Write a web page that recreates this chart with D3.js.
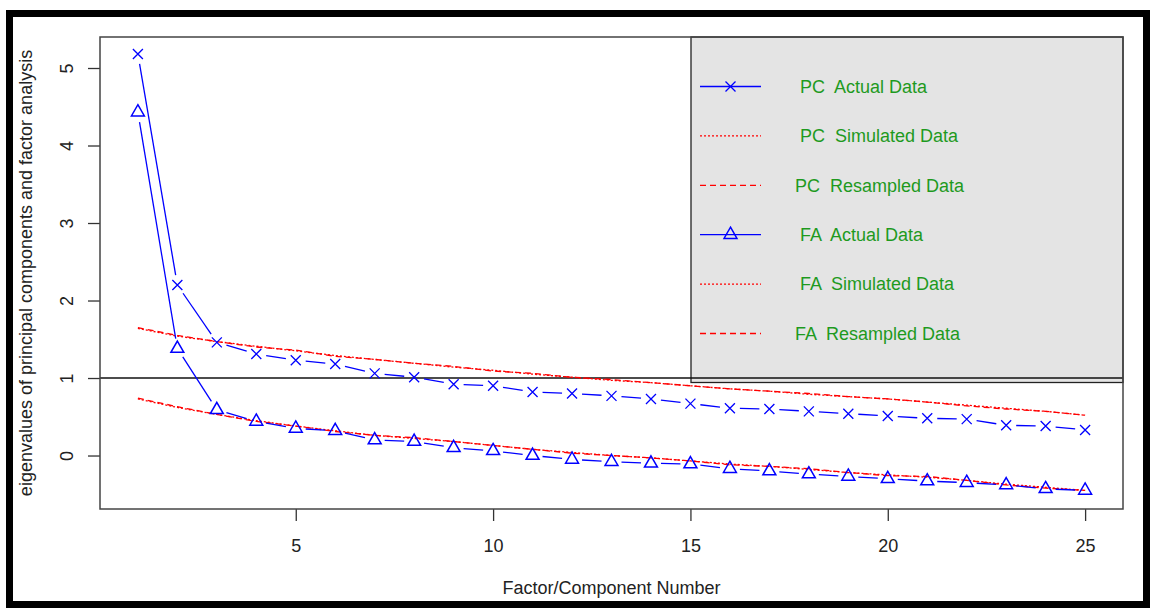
<!DOCTYPE html>
<html>
<head>
<meta charset="utf-8">
<script src="https://cdn.jsdelivr.net/npm/d3@7"></script>
<style>
  html, body { margin: 0; padding: 0; background: #fff; }
  svg { display: block; font-family: "Liberation Sans", Arial, sans-serif; }
  .legend-text { white-space: pre; }
</style>
</head>
<body>
<div id="chart"></div>
<script>
// values (factor/component number 1..25)
const components  = d3.range(1, 26)
const pcActual    = [5.18, 2.20, 1.46, 1.31, 1.23, 1.18, 1.06, 1.01, 0.92, 0.90, 0.82, 0.80, 0.77, 0.73, 0.67, 0.61, 0.60, 0.57, 0.54, 0.51, 0.48, 0.47, 0.39, 0.38, 0.33]
const pcSimulated = [1.64, 1.54, 1.47, 1.41, 1.35, 1.29, 1.24, 1.19, 1.14, 1.10, 1.05, 1.01, 0.97, 0.94, 0.90, 0.86, 0.83, 0.79, 0.76, 0.73, 0.69, 0.65, 0.61, 0.57, 0.52]
const pcResampled = [1.65, 1.55, 1.47, 1.40, 1.36, 1.28, 1.24, 1.19, 1.15, 1.09, 1.06, 1.01, 0.98, 0.94, 0.90, 0.86, 0.83, 0.80, 0.76, 0.73, 0.69, 0.64, 0.60, 0.57, 0.52]
const faActual    = [4.43, 1.38, 0.59, 0.44, 0.35, 0.32, 0.20, 0.18, 0.10, 0.06, 0.00, -0.05, -0.08, -0.10, -0.11, -0.17, -0.20, -0.24, -0.27, -0.30, -0.33, -0.35, -0.38, -0.43, -0.45]
const faSimulated = [0.73, 0.62, 0.53, 0.45, 0.38, 0.32, 0.26, 0.22, 0.18, 0.13, 0.08, 0.04, 0.00, -0.03, -0.07, -0.11, -0.14, -0.18, -0.22, -0.25, -0.28, -0.32, -0.37, -0.41, -0.45]
const faResampled = [0.74, 0.63, 0.53, 0.44, 0.38, 0.31, 0.26, 0.23, 0.18, 0.13, 0.08, 0.03, 0.00, -0.03, -0.07, -0.12, -0.14, -0.17, -0.22, -0.26, -0.27, -0.32, -0.38, -0.42, -0.45]

const xTicks = [5, 10, 15, 20, 25]
const yTicks = [0, 1, 2, 3, 4, 5]
const legendLabels = ["PC  Actual Data", "PC  Simulated Data", "PC  Resampled Data",
                      "FA  Actual Data", "FA  Simulated Data", "FA  Resampled Data"]

const W = 1151, H = 608
const box = {left: 100, right: 1123, top: 37, bottom: 509}

const blue = "#0000ff", red = "#ff0000", green = "#1e9a1e"

const svg = d3.select("#chart").append("svg")
  .attr("width", W).attr("height", H)

const x = d3.scaleLinear().domain([0.04, 25.96]).range([box.left, box.right])
const y = d3.scaleLinear().domain([-0.69, 5.40]).range([box.bottom, box.top])

// thick black frame around the picture
svg.append("rect")
  .attr("x", 9.5).attr("y", 13.5).attr("width", 1137).attr("height", 591)
  .attr("fill", "none").attr("stroke", "#000").attr("stroke-width", 7)

// axes, R style: ticks outside the box, y labels turned
const xAxis = d3.axisBottom(x).tickValues(xTicks).tickSize(12).tickPadding(18).tickSizeOuter(0)
const gx = svg.append("g").attr("transform", "translate(0," + box.bottom + ")").call(xAxis)
gx.select(".domain").remove()
gx.selectAll("line").attr("stroke", "#333").attr("stroke-width", 1.3)
gx.selectAll("text").attr("font-size", 18).attr("fill", "#222")
  .attr("font-family", "Liberation Sans, Arial, sans-serif")

const yAxis = d3.axisLeft(y).tickValues(yTicks).tickFormat(d3.format("d")).tickSize(12).tickSizeOuter(0)
const gy = svg.append("g").attr("transform", "translate(" + box.left + ",0)").call(yAxis)
gy.select(".domain").remove()
gy.selectAll("line").attr("stroke", "#333").attr("stroke-width", 1.3)
gy.selectAll("text")
  .attr("font-size", 18).attr("fill", "#222")
  .attr("font-family", "Liberation Sans, Arial, sans-serif")
  .attr("x", 0).attr("y", 0).attr("dy", "0.35em")
  .attr("text-anchor", "middle")
  .attr("transform", "translate(-33,0) rotate(-90)")

// axis titles
svg.append("text")
  .attr("x", (box.left + box.right) / 2).attr("y", 594)
  .attr("text-anchor", "middle").attr("font-size", 18).attr("fill", "#222")
  .text("Factor/Component Number")

svg.append("text")
  .attr("transform", "translate(32," + (box.top + box.bottom) / 2 + ") rotate(-90)")
  .attr("text-anchor", "middle").attr("font-size", 18).attr("fill", "#222")
  .text("eigenvalues of principal components and factor analysis")

// legend box (drawn before the data, as the R code does)
const lg = {left: 691, right: box.right, top: box.top, bottom: 382.5}
svg.append("rect")
  .attr("x", lg.left).attr("y", lg.top)
  .attr("width", lg.right - lg.left).attr("height", lg.bottom - lg.top)
  .attr("fill", "#e4e4e4").attr("stroke", "#222").attr("stroke-width", 1.3)

// reference line at eigenvalue 1
svg.append("line")
  .attr("x1", box.left).attr("x2", box.right)
  .attr("y1", y(1)).attr("y2", y(1))
  .attr("stroke", "#111").attr("stroke-width", 1.5)

const line = d3.line().x(d => x(d[0])).y(d => y(d[1]))

function drawCurve(values, dash) {
  svg.append("path")
    .datum(components.map((c, i) => [c, values[i]]))
    .attr("d", line)
    .attr("fill", "none").attr("stroke", red).attr("stroke-width", 1.3)
    .attr("stroke-dasharray", dash)
}

// type = "b": line segments stop short of each point
function drawPoints(values, shape) {
  const gap = 10
  const pts = components.map((c, i) => [x(c), y(values[i])])
  const g = svg.append("g")
  for (let i = 0; i < pts.length - 1; i++) {
    const [x0, y0] = pts[i], [x1, y1] = pts[i + 1]
    const len = Math.hypot(x1 - x0, y1 - y0)
    if (len <= 2 * gap) continue
    const ux = (x1 - x0) / len, uy = (y1 - y0) / len
    g.append("line")
      .attr("x1", x0 + ux * gap).attr("y1", y0 + uy * gap)
      .attr("x2", x1 - ux * gap).attr("y2", y1 - uy * gap)
      .attr("stroke", blue).attr("stroke-width", 1.3)
  }
  pts.forEach(p => drawMarker(g, p[0], p[1], shape))
}

function drawMarker(g, px, py, shape) {
  if (shape === "cross") {
    const r = 5
    g.append("path")
      .attr("d", `M${px - r},${py - r}L${px + r},${py + r}M${px - r},${py + r}L${px + r},${py - r}`)
      .attr("stroke", blue).attr("stroke-width", 1.3).attr("fill", "none")
  } else {
    const xc = 4.8
    const top = 1.555 * xc, half = 1.347 * xc, bot = 0.778 * xc
    g.append("path")
      .attr("d", `M${px},${py - top}L${px + half},${py + bot}L${px - half},${py + bot}Z`)
      .attr("stroke", blue).attr("stroke-width", 1.5).attr("fill", "none")
  }
}

drawCurve(pcSimulated, "2,2")
drawCurve(pcResampled, "6,4")
drawCurve(faSimulated, "2,2")
drawCurve(faResampled, "6,4")
drawPoints(pcActual, "cross")
drawPoints(faActual, "triangle")

// box around the plotting region
svg.append("rect")
  .attr("x", box.left).attr("y", box.top)
  .attr("width", box.right - box.left).attr("height", box.bottom - box.top)
  .attr("fill", "none").attr("stroke", "#444").attr("stroke-width", 1.5)

// legend entries
const legendStyle = [
  {dash: null, color: blue, marker: "cross"},
  {dash: "2,2", color: red},
  {dash: "6,4", color: red},
  {dash: null, color: blue, marker: "triangle"},
  {dash: "2,2", color: red},
  {dash: "6,4", color: red}
]
const rowY = d3.scaleLinear().domain([0, 5]).range([86.5, 333.5])
legendLabels.forEach((label, i) => {
  const ry = rowY(i), st = legendStyle[i]
  svg.append("line")
    .attr("x1", 700).attr("x2", 761).attr("y1", ry).attr("y2", ry)
    .attr("stroke", st.color).attr("stroke-width", 1.3)
    .attr("stroke-dasharray", st.dash)
  if (st.marker) drawMarker(svg, 730.5, ry, st.marker)
  const shift = label.includes("Resampled") ? -5 : 0
  svg.append("text")
    .attr("class", "legend-text")
    .attr("x", 800 + shift).attr("y", ry).attr("dy", "0.35em")
    .attr("font-size", 18).attr("fill", green)
    .text(label)
})
</script>
</body>
</html>
